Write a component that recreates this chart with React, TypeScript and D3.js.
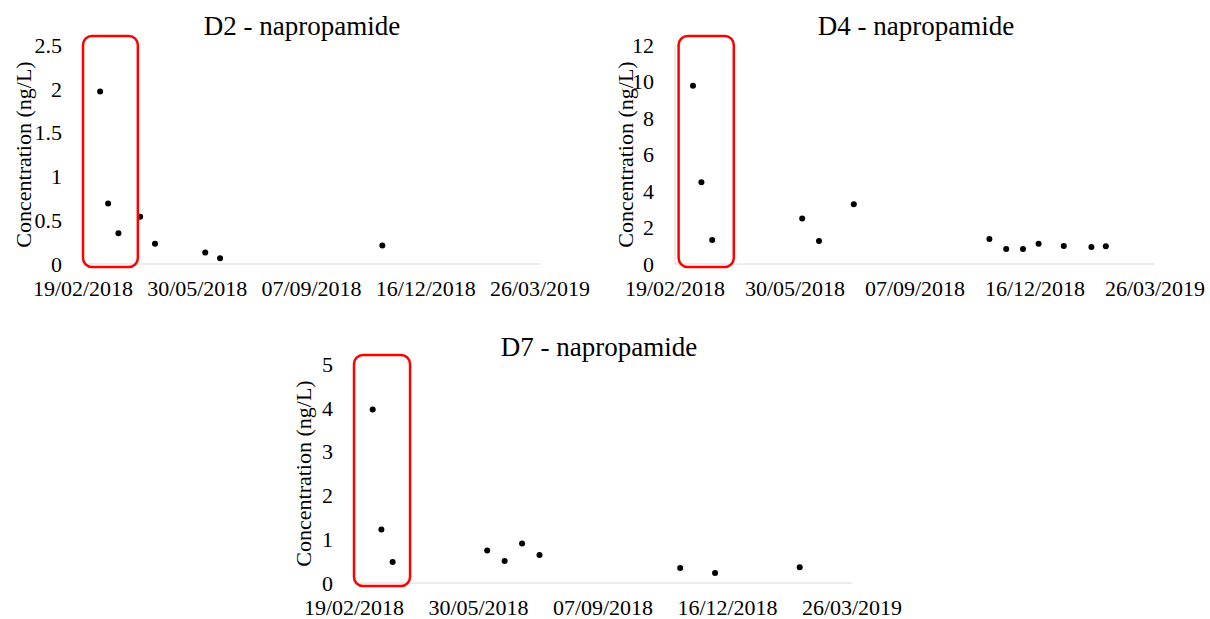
import React from 'react'
import * as d3 from 'd3'

// x axis ticks, shared by all three panels
const tickDates = ['19/02/2018', '30/05/2018', '07/09/2018', '16/12/2018', '26/03/2019']

// D2
const d2Dates = ['06/03/2018', '13/03/2018', '22/03/2018', '10/04/2018', '23/04/2018', '06/06/2018', '19/06/2018', '08/11/2018']
const d2Values = [1.97, 0.69, 0.35, 0.54, 0.23, 0.13, 0.065, 0.21]

// D4
const d4Dates = ['06/03/2018', '13/03/2018', '22/03/2018', '05/06/2018', '19/06/2018', '18/07/2018', '08/11/2018', '22/11/2018', '06/12/2018', '19/12/2018', '09/01/2019', '01/02/2019', '13/02/2019']
const d4Values = [9.77, 4.48, 1.32, 2.5, 1.26, 3.27, 1.37, 0.82, 0.82, 1.11, 0.99, 0.93, 0.97]

// D7
const d7Dates = ['06/03/2018', '13/03/2018', '22/03/2018', '06/06/2018', '20/06/2018', '04/07/2018', '18/07/2018', '08/11/2018', '06/12/2018', '12/02/2019']
const d7Values = [3.96, 1.22, 0.48, 0.74, 0.5, 0.9, 0.64, 0.34, 0.23, 0.36]

const parse = d3.utcParse('%d/%m/%Y')
const fmt = d3.utcFormat('%d/%m/%Y')
const FONT = 'Liberation Serif, Times New Roman, serif'
const AXIS = '#d9d9d9'

type PanelProps = {
  title: string
  dates: string[]
  values: number[]
  yMax: number
  yTicks: number
  boxStart: string
  boxEnd: string
  left: number
  right: number
  top: number
  bottom: number
  titleX: number
  titleY: number
  labelOffset: number
}

const Panel = (p: PanelProps) => {
  const x = d3
    .scaleUtc()
    .domain([parse(tickDates[0])!, parse(tickDates[tickDates.length - 1])!])
    .range([p.left, p.right])
  const y = d3.scaleLinear().domain([0, p.yMax]).range([p.bottom, p.top])
  const bx0 = x(parse(p.boxStart)!)
  const bx1 = x(parse(p.boxEnd)!)

  return (
    <g>
      <text x={p.titleX} y={p.titleY} fontSize={27} textAnchor="middle">
        {p.title}
      </text>
      <line x1={p.left} x2={p.left} y1={p.top} y2={p.bottom} stroke={AXIS} />
      <line x1={p.left} x2={p.right} y1={p.bottom} y2={p.bottom} stroke={AXIS} />
      {y.ticks(p.yTicks).map((t) => (
        <text key={t} x={p.left - 21} y={y(t)} dy="0.35em" fontSize={22} textAnchor="end">
          {String(t)}
        </text>
      ))}
      {tickDates.map((d) => (
        <text key={d} x={x(parse(d)!)} y={p.bottom + 32} fontSize={22} textAnchor="middle">
          {fmt(parse(d)!)}
        </text>
      ))}
      <text
        transform={`translate(${p.left - p.labelOffset},${(p.top + p.bottom) / 2}) rotate(-90)`}
        dy="0.35em"
        fontSize={22}
        textAnchor="middle"
      >
        Concentration (ng/L)
      </text>
      {p.dates.map((d, i) => (
        <circle key={i} cx={x(parse(d)!)} cy={y(p.values[i])} r={3} fill="#000" />
      ))}
      <rect
        x={bx0}
        y={p.top - 9}
        width={bx1 - bx0}
        height={p.bottom - p.top + 12}
        rx={9}
        fill="none"
        stroke="#ff0000"
        strokeWidth={2.5}
      />
    </g>
  )
}

export default function App() {
  return (
    <svg
      width={1210}
      height={619}
      style={{ position: 'absolute', left: 0, top: 0, background: '#fff', fontFamily: FONT }}
    >
      <Panel
        title="D2 - napropamide"
        dates={d2Dates}
        values={d2Values}
        yMax={2.5}
        yTicks={5}
        boxStart="19/02/2018"
        boxEnd="08/04/2018"
        left={83}
        right={540}
        top={45}
        bottom={264}
        titleX={302}
        titleY={35}
        labelOffset={60}
      />
      <Panel
        title="D4 - napropamide"
        dates={d4Dates}
        values={d4Values}
        yMax={12}
        yTicks={6}
        boxStart="22/02/2018"
        boxEnd="09/04/2018"
        left={675}
        right={1155}
        top={45}
        bottom={264}
        titleX={916}
        titleY={35}
        labelOffset={50}
      />
      <Panel
        title="D7 - napropamide"
        dates={d7Dates}
        values={d7Values}
        yMax={5}
        yTicks={5}
        boxStart="19/02/2018"
        boxEnd="05/04/2018"
        left={354}
        right={852}
        top={364}
        bottom={583}
        titleX={599}
        titleY={356}
        labelOffset={51}
      />
    </svg>
  )
}
